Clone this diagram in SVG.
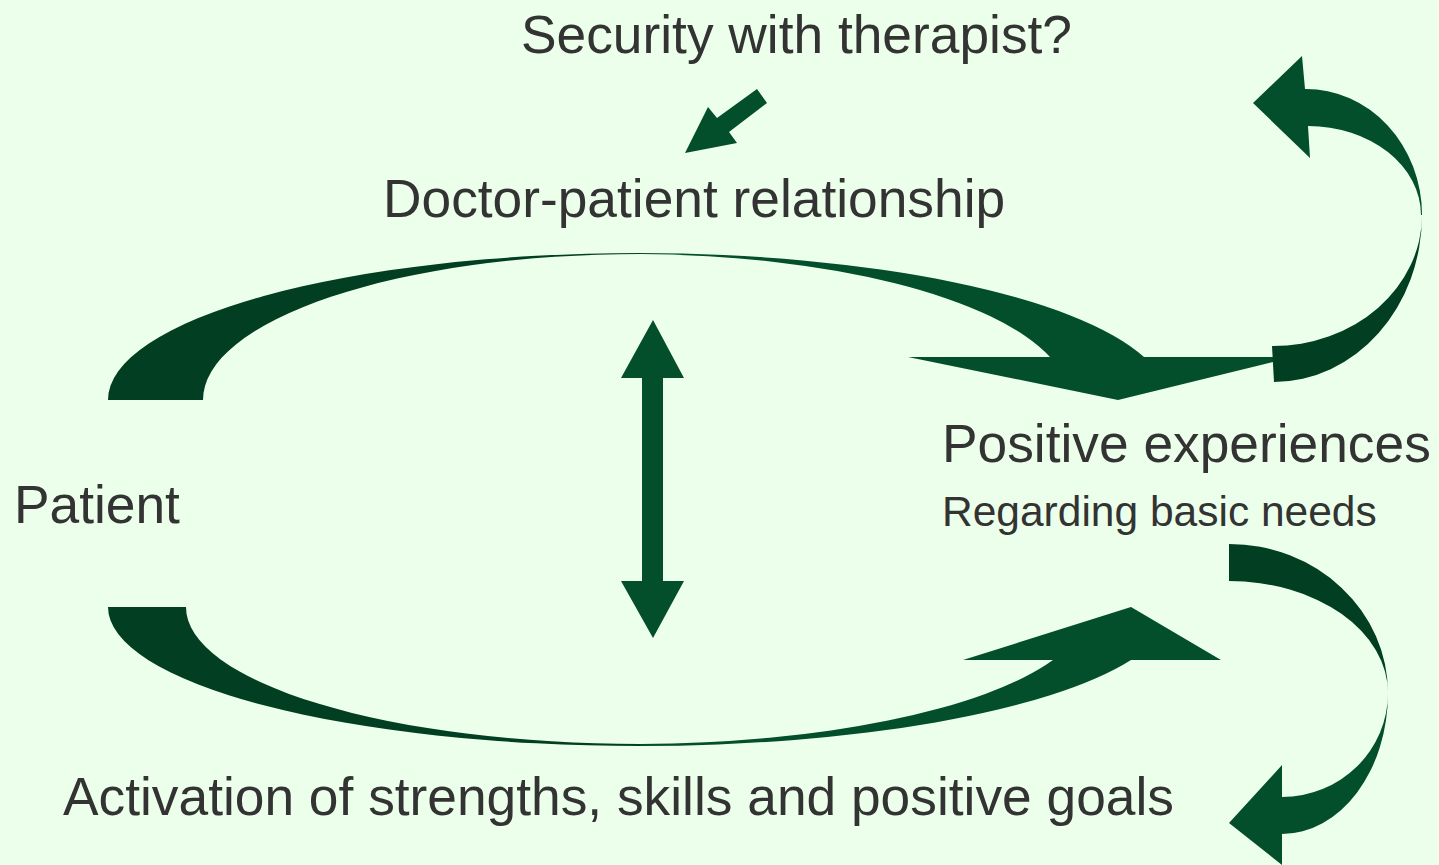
<svg xmlns="http://www.w3.org/2000/svg" width="1439" height="865" viewBox="0 0 1439 865">
<style>
.lbl{font-family:"Liberation Sans",Arial,sans-serif;font-size:53.3px;fill:#333333}
.sub{font-size:42.5px}
.lt{fill:#034e2b}
.dk{fill:#023e22}
</style>
<rect x="0" y="0" width="1439" height="865" fill="#ebffea"/>
<g id="connectors">
  <g id="arrow-top">
    <path class="dk" d="M108 400 A532 147 0 0 1 640 253 L640 254 A437 146 0 0 0 203 400 Z"/>
    <path class="lt" d="M640 253 A532 147 0 0 1 1144 357 L1293 357 L1118 400 L908 357 L1050 357 A437 146 0 0 0 640 254 Z"/>
  </g>
  <g id="arrow-bottom">
    <path class="dk" d="M108 607 A532 139 0 0 0 640 746 L640 744 A454 137 0 0 1 186 607 Z"/>
    <path class="lt" d="M640 746 A532 139 0 0 0 1131 660 L1221 660 L1131 607 L963 660 L1053 660 A454 137 0 0 1 640 744 Z"/>
  </g>
  <g id="arrow-right-top">
    <path class="dk" d="M1274 382 A148 167 0 0 0 1422 215 A149 131 0 0 1 1272 346 Z"/>
    <path class="lt" d="M1422 215 A116 126 0 0 0 1305 89 L1302 56 L1253 103 L1310 158 L1308 126 A113 89 0 0 1 1421 215 Z"/>
  </g>
  <g id="arrow-right-bottom">
    <path class="dk" d="M1229 544 A159 149 0 0 1 1388 693 A159 112 0 0 0 1229 581 Z"/>
    <path class="lt" d="M1388 693 A106 141 0 0 1 1282 834 L1282 865 L1229 823 L1282 765 L1282 797 A106 104 0 0 0 1388 693 Z"/>
  </g>
  <polygon id="arrow-double" class="lt" points="653,320 684,378 663,378 663,581 684,581 653,638 621,581 642,581 642,378 621,378"/>
  <polygon id="arrow-security" class="lt" points="757,89 767,103 729,132 737,143 685,153 708,107 717,118"/>
</g>
<g id="node-security"><text class="lbl" x="521" y="53">Security with therapist?</text></g>
<g id="node-relationship"><text class="lbl" x="383" y="217">Doctor-patient relationship</text></g>
<g id="node-patient"><text class="lbl" x="14" y="523">Patient</text></g>
<g id="node-positive"><text class="lbl" x="942" y="462">Positive experiences</text><text class="lbl sub" x="942" y="526">Regarding basic needs</text></g>
<g id="node-activation"><text class="lbl" x="63" y="815">Activation of strengths, skills and positive goals</text></g>
</svg>
